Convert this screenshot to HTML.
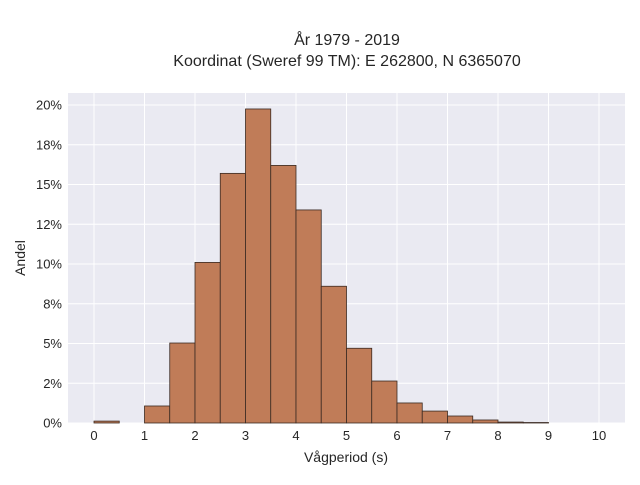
<!DOCTYPE html>
<html><head><meta charset="utf-8"><style>
body{margin:0;background:#fff;font-family:"Liberation Sans",sans-serif}
svg text{font-family:"Liberation Sans",sans-serif;fill:#262626}
</style></head><body>
<svg id="c" width="640" height="480">
<text x="347" y="45" font-size="16" text-anchor="middle">År 1979 - 2019</text>
<text x="347" y="66" font-size="16" text-anchor="middle">Koordinat (Sweref 99 TM): E 262800, N 6365070</text>
<rect x="68" y="93" width="557" height="330" fill="#eaeaf2"/>
<g id="grid"></g><g id="bars"></g><g id="ticks"></g>
<text x="346" y="462" font-size="14" text-anchor="middle">Vågperiod (s)</text>
<text x="25" y="258" font-size="14" text-anchor="middle" transform="rotate(-90 25 258)">Andel</text>
</svg>
<script>
const binStarts=[0,0.5,1,1.5,2,2.5,3,3.5,4,4.5,5,5.5,6,6.5,7,7.5,8,8.5,9,9.5];
const shares=[0.12,0,1.07,5.03,10.1,15.7,19.75,16.2,13.4,8.6,4.7,2.64,1.26,0.75,0.44,0.19,0.06,0.03,0,0];
const xTicks=[0,1,2,3,4,5,6,7,8,9,10];
const yTicks=[0,2.5,5,7.5,10,12.5,15,17.5,20];
const yTickLabels=["0%","2%","5%","8%","10%","12%","15%","18%","20%"];
const binWidth=0.5;
const X=v=>94+v*50.5, Y=v=>423-v*15.9;
const NS="http://www.w3.org/2000/svg";
const g=document.getElementById('grid'),b=document.getElementById('bars'),t=document.getElementById('ticks');
function mk(tag,a,p){const e=document.createElementNS(NS,tag);for(const k in a)e.setAttribute(k,a[k]);p.appendChild(e);return e;}
xTicks.forEach(v=>{
 const l=mk('line',{x1:X(v),x2:X(v),y1:93,y2:423,stroke:'#fff','stroke-width':1},g);
 
 
 const tx=mk('text',{x:X(v),y:440,'font-size':13,'text-anchor':'middle'},t);tx.textContent=v;
 
 
});
yTicks.forEach((v,i)=>{
 const l=mk('line',{x1:68,x2:625,y1:Y(v),y2:Y(v),stroke:'#fff','stroke-width':1},g);
 
 
 const tx=mk('text',{x:62,y:Y(v)+4.5,'font-size':13,'text-anchor':'end'},t);tx.textContent=yTickLabels[i];
 
 
});
binStarts.forEach((s,i)=>{
 if(shares[i]<=0)return;
 const r=mk('rect',{x:X(s),y:Y(shares[i]),width:X(s+binWidth)-X(s),height:423-Y(shares[i]),fill:'#c07c58',stroke:'#3a2a22','stroke-width':0.8},b);
 
 
});
</script>
</body></html>
